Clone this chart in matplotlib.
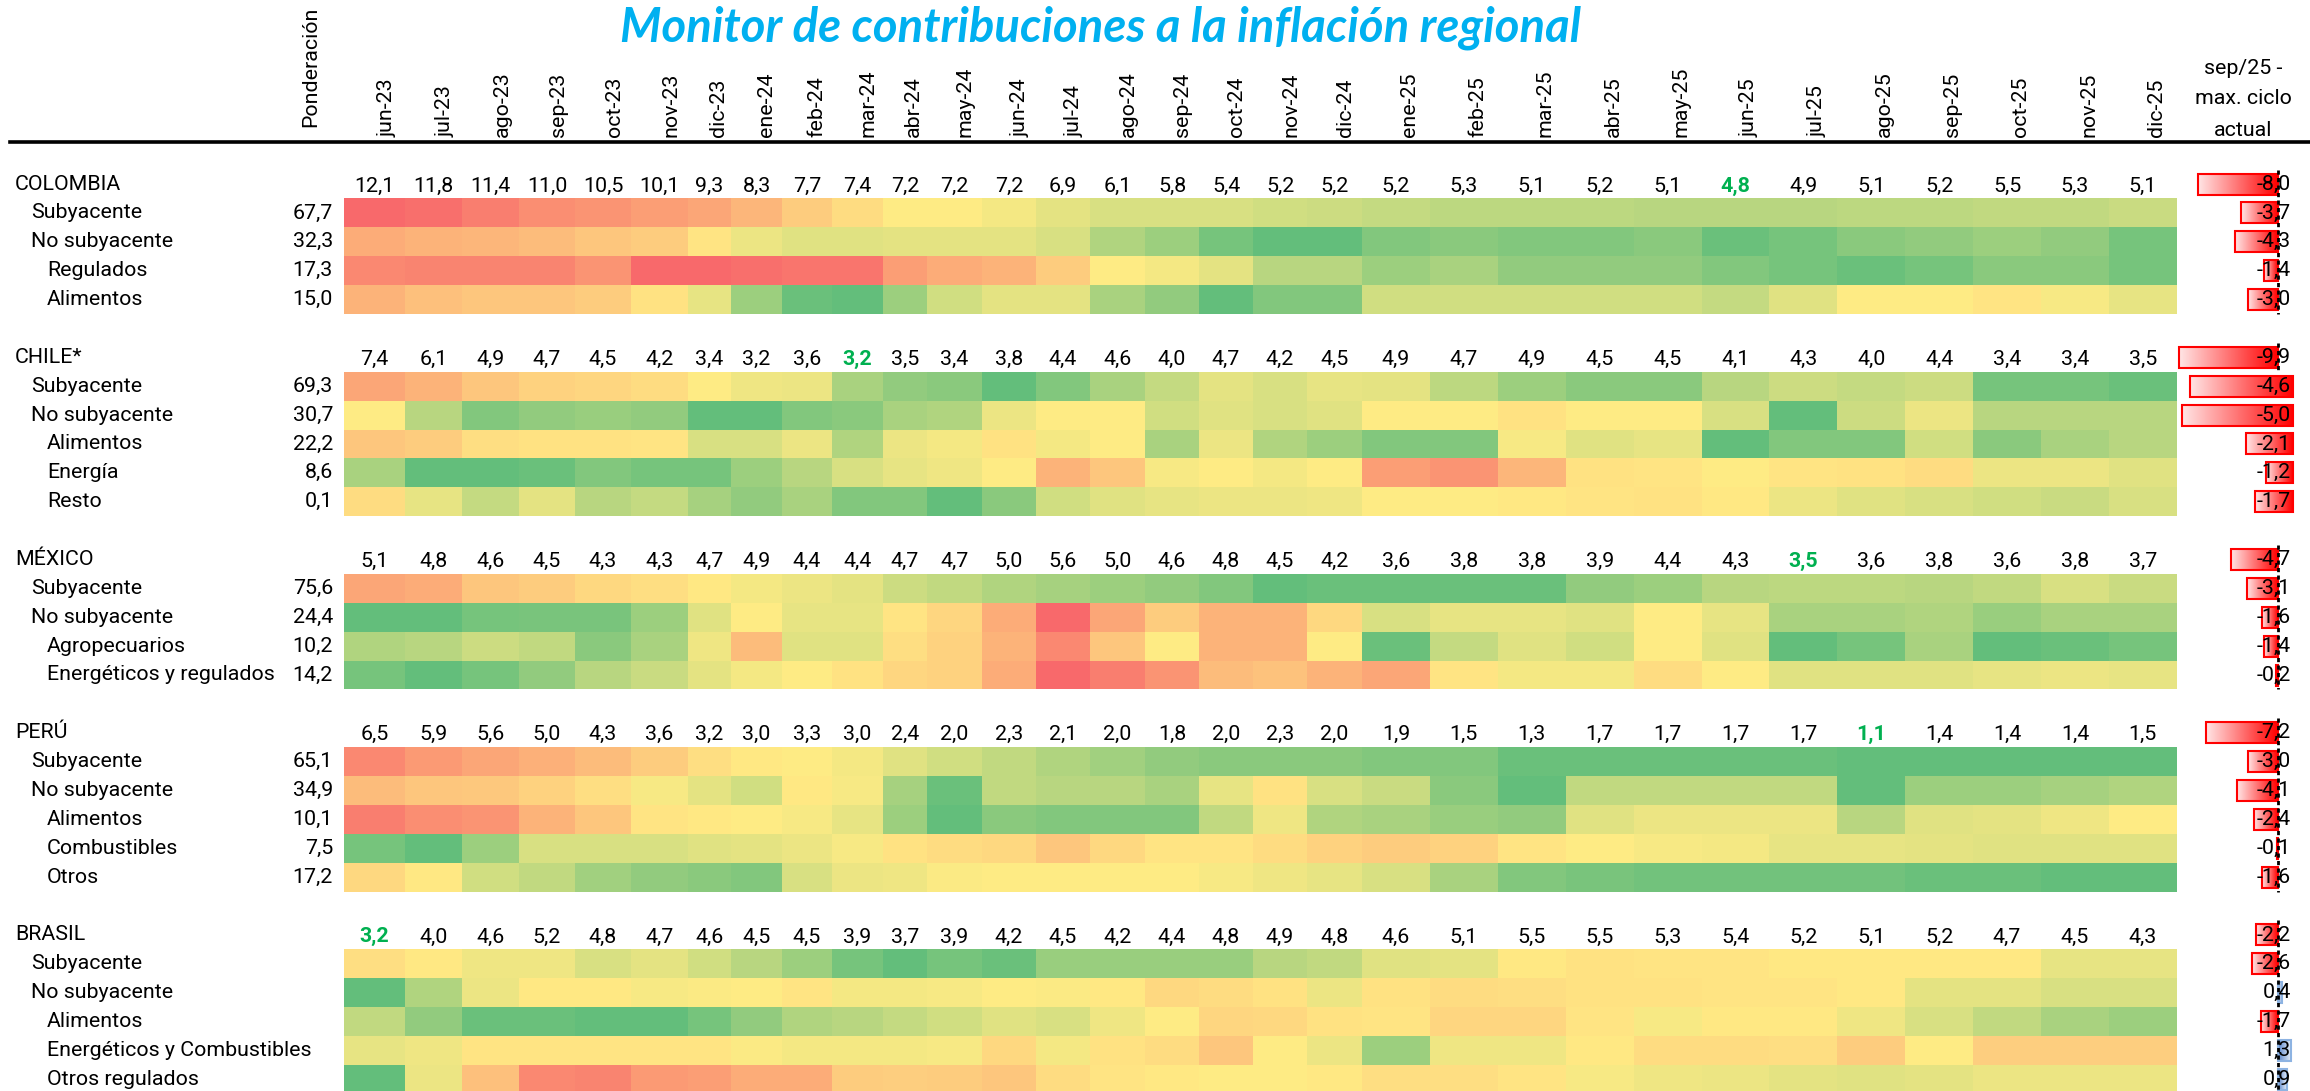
import numpy as np
import matplotlib
matplotlib.use("Agg")
import matplotlib.pyplot as plt
from matplotlib.colors import LinearSegmentedColormap

plt.rcParams['font.family'] = ['Roboto', 'DejaVu Sans']

# --- data -------------------------------------------------------------------
months = ["jun-23", "jul-23", "ago-23", "sep-23", "oct-23", "nov-23", "dic-23",
          "ene-24", "feb-24", "mar-24", "abr-24", "may-24", "jun-24", "jul-24",
          "ago-24", "sep-24", "oct-24", "nov-24", "dic-24", "ene-25", "feb-25",
          "mar-25", "abr-25", "may-25", "jun-25", "jul-25", "ago-25", "sep-25",
          "oct-25", "nov-25", "dic-25"]

# headline inflation per country (top row of each block)
colombia_total = [12.1, 11.8, 11.4, 11.0, 10.5, 10.1, 9.3, 8.3, 7.7, 7.4, 7.2, 7.2, 7.2, 6.9, 6.1, 5.8,
                  5.4, 5.2, 5.2, 5.2, 5.3, 5.1, 5.2, 5.1, 4.8, 4.9, 5.1, 5.2, 5.5, 5.3, 5.1]
chile_total = [7.4, 6.1, 4.9, 4.7, 4.5, 4.2, 3.4, 3.2, 3.6, 3.2, 3.5, 3.4, 3.8, 4.4, 4.6, 4.0,
               4.7, 4.2, 4.5, 4.9, 4.7, 4.9, 4.5, 4.5, 4.1, 4.3, 4.0, 4.4, 3.4, 3.4, 3.5]
mexico_total = [5.1, 4.8, 4.6, 4.5, 4.3, 4.3, 4.7, 4.9, 4.4, 4.4, 4.7, 4.7, 5.0, 5.6, 5.0, 4.6,
                4.8, 4.5, 4.2, 3.6, 3.8, 3.8, 3.9, 4.4, 4.3, 3.5, 3.6, 3.8, 3.6, 3.8, 3.7]
peru_total = [6.5, 5.9, 5.6, 5.0, 4.3, 3.6, 3.2, 3.0, 3.3, 3.0, 2.4, 2.0, 2.3, 2.1, 2.0, 1.8,
              2.0, 2.3, 2.0, 1.9, 1.5, 1.3, 1.7, 1.7, 1.7, 1.7, 1.1, 1.4, 1.4, 1.4, 1.5]
brasil_total = [3.2, 4.0, 4.6, 5.2, 4.8, 4.7, 4.6, 4.5, 4.5, 3.9, 3.7, 3.9, 4.2, 4.5, 4.2, 4.4,
                4.8, 4.9, 4.8, 4.6, 5.1, 5.5, 5.5, 5.3, 5.4, 5.2, 5.1, 5.2, 4.7, 4.5, 4.3]

# month flagged in green (cycle low)
colombia_low, chile_low, mexico_low, peru_low, brasil_low = 24, 9, 25, 26, 0

colombia_rows = ["Subyacente", "No subyacente", "Regulados", "Alimentos"]
chile_rows = ["Subyacente", "No subyacente", "Alimentos", "Energía", "Resto"]
mexico_rows = ["Subyacente", "No subyacente", "Agropecuarios", "Energéticos y regulados"]
peru_rows = ["Subyacente", "No subyacente", "Alimentos", "Combustibles", "Otros"]
brasil_rows = ["Subyacente", "No subyacente", "Alimentos", "Energéticos y Combustibles", "Otros regulados"]

colombia_weights = ["67,7", "32,3", "17,3", "15,0"]
chile_weights = ["69,3", "30,7", "22,2", "8,6", "0,1"]
mexico_weights = ["75,6", "24,4", "10,2", "14,2"]
peru_weights = ["65,1", "34,9", "10,1", "7,5", "17,2"]
brasil_weights = ["", "", "", "", ""]

# heat-map colour score per cell (0 = red, 50 = yellow, 100 = green), estimated from the colours
colombia_heat = [
    [5, 10, 15, 20, 22, 25, 28, 33, 40, 45, 50, 50, 53, 57, 60, 60, 60, 62, 63, 65, 67, 67, 67, 68, 68, 68, 67, 67, 66, 66, 64],
    [30, 32, 33, 35, 38, 40, 48, 55, 58, 58, 57, 57, 57, 60, 70, 75, 85, 92, 92, 82, 80, 82, 82, 80, 88, 85, 80, 78, 75, 78, 85],
    [18, 17, 17, 17, 22, 5, 2, 10, 12, 12, 25, 30, 32, 40, 50, 53, 57, 68, 68, 75, 72, 78, 78, 78, 82, 85, 88, 85, 80, 80, 85],
    [32, 36, 38, 38, 40, 47, 56, 75, 88, 92, 75, 62, 57, 57, 72, 78, 93, 82, 82, 62, 62, 62, 62, 62, 65, 58, 50, 50, 48, 52, 56],
]
chile_heat = [
    [28, 32, 38, 42, 43, 45, 50, 54, 55, 72, 78, 80, 95, 82, 72, 65, 57, 60, 56, 57, 67, 75, 80, 80, 68, 63, 65, 63, 85, 85, 88],
    [50, 68, 82, 78, 76, 78, 92, 90, 82, 80, 72, 70, 55, 50, 50, 62, 58, 60, 58, 50, 50, 47, 50, 50, 60, 90, 63, 55, 68, 68, 68],
    [38, 40, 46, 47, 47, 48, 60, 60, 55, 70, 55, 53, 47, 53, 50, 72, 55, 70, 75, 82, 82, 52, 58, 56, 92, 82, 82, 62, 80, 72, 68],
    [72, 92, 92, 88, 82, 85, 85, 75, 68, 60, 56, 54, 50, 32, 38, 52, 50, 53, 50, 25, 22, 33, 47, 48, 50, 48, 47, 45, 55, 55, 58],
    [45, 56, 65, 57, 68, 65, 73, 78, 72, 82, 82, 95, 80, 62, 58, 56, 55, 55, 54, 50, 50, 49, 48, 47, 49, 55, 58, 60, 62, 64, 60],
]
mexico_heat = [
    [28, 30, 38, 40, 44, 46, 49, 53, 55, 57, 63, 66, 70, 73, 75, 78, 82, 95, 88, 88, 88, 88, 78, 75, 68, 67, 67, 68, 66, 60, 64],
    [92, 95, 85, 84, 84, 75, 58, 50, 56, 56, 48, 43, 30, 5, 28, 40, 32, 32, 44, 60, 56, 56, 58, 50, 56, 72, 72, 70, 76, 72, 72],
    [70, 68, 63, 66, 80, 72, 54, 35, 58, 58, 46, 42, 32, 18, 38, 50, 32, 32, 50, 88, 65, 58, 62, 50, 58, 95, 85, 72, 95, 88, 85],
    [85, 95, 85, 78, 68, 64, 57, 53, 50, 47, 43, 42, 30, 2, 15, 22, 35, 37, 32, 28, 48, 53, 53, 45, 50, 58, 58, 58, 56, 55, 56],
]
peru_heat = [
    [18, 24, 28, 31, 35, 40, 46, 49, 50, 53, 58, 62, 66, 70, 74, 78, 80, 80, 80, 82, 82, 88, 88, 88, 88, 88, 92, 92, 92, 92, 92],
    [35, 38, 39, 42, 46, 52, 57, 62, 49, 52, 73, 88, 66, 68, 68, 72, 56, 47, 60, 64, 80, 92, 66, 66, 66, 66, 93, 75, 75, 73, 70],
    [15, 20, 22, 32, 38, 48, 49, 50, 52, 56, 75, 95, 80, 82, 82, 82, 66, 54, 70, 72, 76, 78, 58, 55, 55, 55, 68, 58, 57, 54, 50],
    [85, 95, 75, 60, 60, 60, 58, 57, 55, 52, 47, 45, 44, 38, 44, 48, 48, 45, 42, 40, 42, 48, 50, 52, 53, 56, 56, 57, 58, 58, 58],
    [44, 49, 62, 66, 74, 78, 80, 82, 60, 55, 54, 51, 50, 50, 50, 50, 52, 54, 56, 60, 72, 82, 84, 86, 86, 86, 86, 88, 88, 90, 90],
]
brasil_heat = [
    [46, 49, 54, 54, 60, 57, 62, 68, 75, 85, 95, 85, 88, 76, 76, 76, 76, 68, 66, 58, 57, 49, 47, 48, 48, 49, 49, 49, 49, 56, 56],
    [92, 70, 55, 49, 49, 52, 51, 50, 48, 53, 53, 52, 50, 51, 49, 44, 45, 47, 55, 47, 45, 46, 47, 47, 48, 48, 49, 57, 57, 60, 60],
    [66, 78, 88, 88, 92, 92, 85, 78, 70, 68, 65, 62, 58, 60, 54, 50, 43, 44, 47, 48, 43, 43, 48, 52, 49, 49, 54, 60, 66, 72, 75],
    [56, 54, 48, 48, 48, 48, 48, 51, 53, 53, 53, 52, 44, 53, 47, 45, 38, 50, 55, 75, 54, 54, 49, 45, 45, 46, 40, 50, 41, 41, 41],
    [90, 55, 36, 18, 17, 24, 25, 30, 30, 40, 41, 40, 38, 45, 48, 49, 50, 50, 49, 46, 46, 48, 52, 54, 55, 57, 58, 57, 55, 55, 55],
]

# sep/25 minus cycle max (first value = headline)
colombia_gap = [-8.0, -3.7, -4.3, -1.4, -3.0]
chile_gap = [-9.9, -4.6, -5.0, -2.1, -1.2, -1.7]
mexico_gap = [-4.7, -3.1, -1.6, -1.4, -0.2]
peru_gap = [-7.2, -3.0, -4.1, -2.4, -0.1, -1.6]
brasil_gap = [-2.2, -2.6, 0.4, -1.7, 1.3, 0.9]

# --- layout (pixels) --------------------------------------------------------
W, H = 2310, 1091
col_widths = [61, 57, 57, 56, 56, 57, 43, 51, 50, 51, 44, 55, 54, 54, 55, 54,
              54, 54, 55] + [67.9] * 12
x_edges = 344 + np.concatenate([[0], np.cumsum(col_widths)])
x_mid = (x_edges[:-1] + x_edges[1:]) / 2
y0, pitch = 169.6, 28.88
fs = 15.4

countries = [
    ("COLOMBIA", colombia_total, colombia_low, colombia_rows, colombia_weights, colombia_heat, colombia_gap),
    ("CHILE*", chile_total, chile_low, chile_rows, chile_weights, chile_heat, chile_gap),
    ("MÉXICO", mexico_total, mexico_low, mexico_rows, mexico_weights, mexico_heat, mexico_gap),
    ("PERÚ", peru_total, peru_low, peru_rows, peru_weights, peru_heat, peru_gap),
    ("BRASIL", brasil_total, brasil_low, brasil_rows, brasil_weights, brasil_heat, brasil_gap),
]

# excel style red-yellow-green scale
heat_cmap = LinearSegmentedColormap.from_list(
    "xl", [(0, "#F8696B"), (0.08, "#F8696B"), (0.5, "#FFEB84"), (0.9, "#63BE7B"), (1, "#63BE7B")])
red_grad = LinearSegmentedColormap.from_list("rg", ["#FFE6E6", "#FF0000"])
blue_grad = LinearSegmentedColormap.from_list("bg", ["#5A86CC", "#E8EFF9"])

fig = plt.figure(figsize=(W / 100, H / 100), dpi=100)
ax = fig.add_axes([0, 0, 1, 1])
ax.axis("off")


def fmt(v):
    return f"{v:.1f}".replace(".", ",")


# title and column headers
ax.text(1101, 28, "Monitor de contribuciones a la inflación regional", family="Lato",
        fontweight="bold", fontstyle="italic", fontsize=34, color="#00B0F0", ha="center", va="center")
ax.text(311, 127, "Ponderación", rotation=90, ha="center", va="bottom", fontsize=fs)
for i, m in enumerate(months):
    ax.text(x_mid[i] + 0.2 * col_widths[i], 137, m, rotation=90, ha="center", va="bottom", fontsize=fs)
for txt, yy in [("sep/25 -", 69), ("max. ciclo", 99), ("actual", 130)]:
    ax.text(2243, yy, txt, ha="center", va="center", fontsize=fs)
ax.plot([10, W], [142, 142], color="black", lw=2.6)

row = 0
for name, total, low, labels, weights, heat, gap in countries:
    n = len(labels)
    yc = y0 + pitch * (row + 0.5)
    ax.text(15, yc, name, ha="left", va="center", fontsize=fs)
    for i, v in enumerate(total):
        if i == low:
            ax.text(x_mid[i], yc + 2, fmt(v), ha="center", va="center", fontsize=fs,
                    color="#00B050", fontweight="bold")
        else:
            ax.text(x_mid[i], yc + 2, fmt(v), ha="center", va="center", fontsize=fs)
    for k, lab in enumerate(labels):
        yk = y0 + pitch * (row + 1.5 + k)
        indent = 31 if k < 2 else 47
        ax.text(indent, yk, lab, ha="left", va="center", fontsize=fs)
        ax.text(333, yk, weights[k], ha="right", va="center", fontsize=fs)
    y_edges = y0 + pitch * (row + 1 + np.arange(n + 1))
    ax.pcolormesh(x_edges, y_edges, np.array(heat), cmap=heat_cmap, vmin=0, vmax=100,
                  shading="flat", zorder=1)

    # data bars in the last column
    for k, g in enumerate(gap):
        yk = y0 + pitch * (row + 0.5 + k)
        if name == "CHILE*" and k > 0:
            base, scale = 2293, 22.3
        else:
            base, scale = 2278, 10.0
        bars = ax.barh(yk, g * scale, left=base, height=21, facecolor="none",
                       edgecolor="#FF0000" if g < 0 else "#8DB3E2", lw=1.5, zorder=3)
        patch = bars.patches[0]
        x0, x1 = sorted([base, base + g * scale])
        grad = np.linspace(0, 1, 256).reshape(1, -1)
        im = ax.imshow(grad, extent=(x0, x1, yk + 10.5, yk - 10.5), aspect="auto",
                       cmap=red_grad if g < 0 else blue_grad, zorder=2)
        im.set_clip_path(patch)
        ax.text(2291, yk, fmt(g), ha="right", va="center", fontsize=fs, zorder=4)
    top = y0 + pitch * row
    bottom = top + pitch if name == "CHILE*" else top + pitch * (n + 1)
    ax.vlines(2278, top, bottom, colors="black", linestyles=(0, (1.5, 1.2)), lw=2, zorder=5)
    row += n + 2

ax.set_xlim(0, W)
ax.set_ylim(H, 0)
fig.savefig("out.png", dpi=100)
